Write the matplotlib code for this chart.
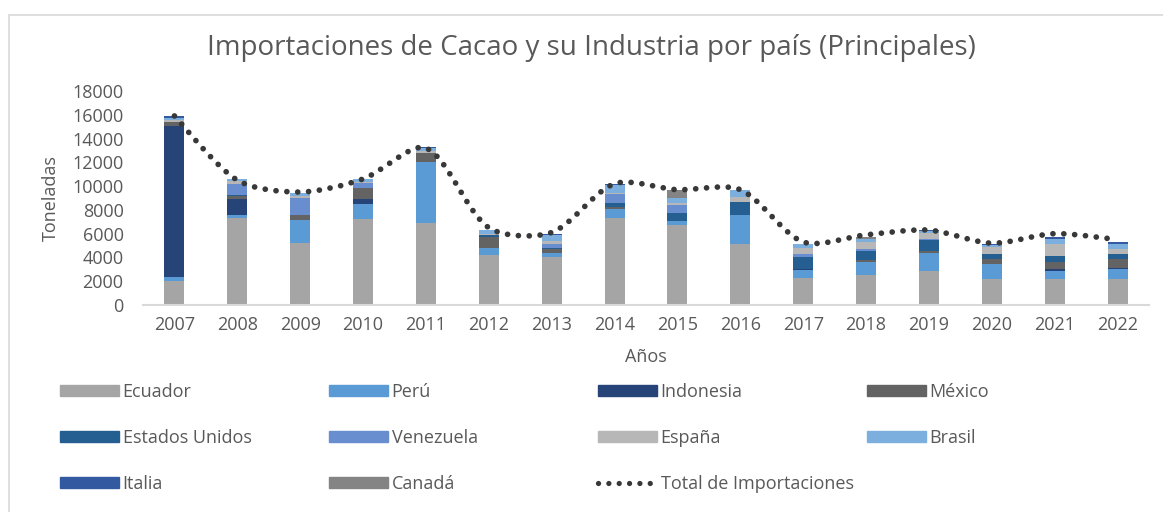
import matplotlib
matplotlib.use("Agg")
import matplotlib.pyplot as plt
from matplotlib.path import Path
from matplotlib.patches import PathPatch, Rectangle
from matplotlib.lines import Line2D
import numpy as np

plt.rcParams['font.family'] = ['Open Sans', 'DejaVu Sans']

years = ['2007', '2008', '2009', '2010', '2011', '2012', '2013', '2014',
         '2015', '2016', '2017', '2018', '2019', '2020', '2021', '2022']

ecuador   = [2000, 7300, 5200, 7200, 6900, 4200, 4050, 7300, 6700, 5100, 2300, 2500, 2900, 2150, 2200, 2150]
peru      = [330, 250, 1950, 1260, 5100, 600, 300, 800, 340, 2430, 670, 1150, 1500, 1260, 670, 870]
indonesia = [12700, 1340, 0, 470, 0, 0, 0, 0, 60, 0, 60, 0, 0, 50, 200, 80]
mexico    = [340, 300, 400, 870, 800, 900, 350, 170, 0, 0, 0, 140, 140, 400, 560, 730]
eeuu      = [0, 60, 0, 0, 0, 150, 80, 270, 650, 1120, 1000, 730, 920, 420, 450, 450]
venezuela = [0, 900, 1430, 420, 0, 0, 370, 760, 700, 0, 250, 170, 80, 0, 0, 0]
espana    = [170, 280, 200, 150, 150, 150, 220, 140, 140, 420, 550, 640, 530, 610, 1090, 470]
brasil    = [220, 140, 200, 250, 250, 300, 520, 640, 420, 620, 280, 200, 170, 140, 340, 370]
italia    = [110, 0, 0, 0, 50, 50, 80, 80, 0, 0, 60, 0, 60, 60, 220, 140]
canada    = [0, 0, 0, 0, 0, 0, 0, 0, 640, 0, 0, 220, 0, 0, 0, 0]
total     = [15900, 10500, 9500, 10600, 13200, 6500, 6100, 10200, 9700, 9700, 5300, 5900, 6300, 5200, 6000, 5500]

series_names = ['Ecuador', 'Perú', 'Indonesia', 'México', 'Estados Unidos',
                'Venezuela', 'España', 'Brasil', 'Italia', 'Canadá']
series_vals = [ecuador, peru, indonesia, mexico, eeuu, venezuela, espana, brasil, italia, canada]
colors = ['#a5a5a5', '#5b9bd5', '#264478', '#636363', '#255e91',
          '#698ed0', '#b7b7b7', '#7cafdd', '#335aa1', '#848484']
total_name = 'Total de Importaciones'

TXT = '#595959'
DOT = '#383838'
W, H = 1163, 512
fig = plt.figure(figsize=(W / 100, H / 100), dpi=100)

# chart border
fig.add_artist(Rectangle((9 / W, -0.1), 1.2, 1 - 15 / H + 0.1, transform=fig.transFigure,
                         fill=False, edgecolor='#d9d9d9', linewidth=1.2))

ax = fig.add_axes([143 / W, 1 - 305 / H, (1149 - 143) / W, (305 - 91) / H])
x = np.arange(len(years))
bottom = np.zeros(len(years))
for name, vals, c in zip(series_names, series_vals, colors):
    v = np.array(vals, dtype=float)
    ax.bar(x, v, bottom=bottom, width=0.32, color=c, label=name, zorder=2)
    bottom += v

ax.set_xlim(-0.5, len(years) - 0.5)
ax.set_ylim(0, 18000)

# smooth dotted total line: Bezier through the data points, tangents scaled
# by neighbouring segment lengths measured in display space
ty = np.array(total, dtype=float)
data_pts = np.column_stack([x, ty])
disp = ax.transData.transform(data_pts)
n = len(disp)
tangents = []
for i in range(n):
    a = disp[max(i - 1, 0)]
    b = disp[min(i + 1, n - 1)]
    tangents.append(b - a)
seg = [np.hypot(*(disp[i + 1] - disp[i])) for i in range(n - 1)]
verts = [tuple(disp[0])]
codes = [Path.MOVETO]
t = 0.29
for i in range(n - 1):
    d_in_i = seg[i - 1] if i > 0 else seg[i]
    d_out_i = seg[i]
    d_in_j = seg[i]
    d_out_j = seg[i + 1] if i + 1 < n - 1 else seg[i]
    c1 = disp[i] + tangents[i] * t * d_out_i / (d_in_i + d_out_i)
    c2 = disp[i + 1] - tangents[i + 1] * t * d_in_j / (d_in_j + d_out_j)
    verts += [tuple(c1), tuple(c2), tuple(disp[i + 1])]
    codes += [Path.CURVE4] * 3
inv = ax.transData.inverted()
verts = inv.transform(np.array(verts))
patch = PathPatch(Path(verts, codes), fill=False, edgecolor=DOT, linewidth=4.1,
                  linestyle=(0, (0.01, 1.9)), capstyle='round', zorder=3)
ax.add_patch(patch)

ax.set_yticks(np.arange(0, 18001, 2000))
ax.set_xticks(x)
ax.set_xticklabels(years)
for s in ['top', 'right', 'left']:
    ax.spines[s].set_visible(False)
ax.spines['bottom'].set_color('#d9d9d9')
ax.spines['bottom'].set_linewidth(1.5)
ax.tick_params(axis='both', length=0, labelsize=13, colors=TXT)
ax.tick_params(axis='y', pad=14)
ax.tick_params(axis='x', pad=8)
ax.set_ylabel('Toneladas', fontsize=13, color=TXT, labelpad=9)
ax.set_xlabel('Años', fontsize=13, color=TXT, labelpad=10)

fig.text(591 / W, 1 - 48 / H, 'Importaciones de Cacao y su Industria por país (Principales)',
         ha='center', va='center', fontsize=20, color=TXT)

# legend: 4 columns, placed row-major as in the reference
handles = [Rectangle((0, 0), 1, 1, color=c) for c in colors]
handles.append(Line2D([0], [0], color=DOT, linewidth=3.8, linestyle=(0, (0.01, 1.95)),
                      dash_capstyle='round'))
labels = series_names + [total_name]
col_x = [60, 329, 598, 867]
row_y = [392, 438, 484]
for k, (h, lab) in enumerate(zip(handles, labels)):
    r, cidx = divmod(k, 4)
    fig.legend([h], [lab], loc='center left',
               bbox_to_anchor=(col_x[cidx] / W, 1 - row_y[r] / H),
               frameon=False, fontsize=13, handlelength=3.25, handleheight=0.5,
               handletextpad=0.22, borderpad=0, borderaxespad=0, labelcolor=TXT)

fig.savefig('out.png', dpi=100)
